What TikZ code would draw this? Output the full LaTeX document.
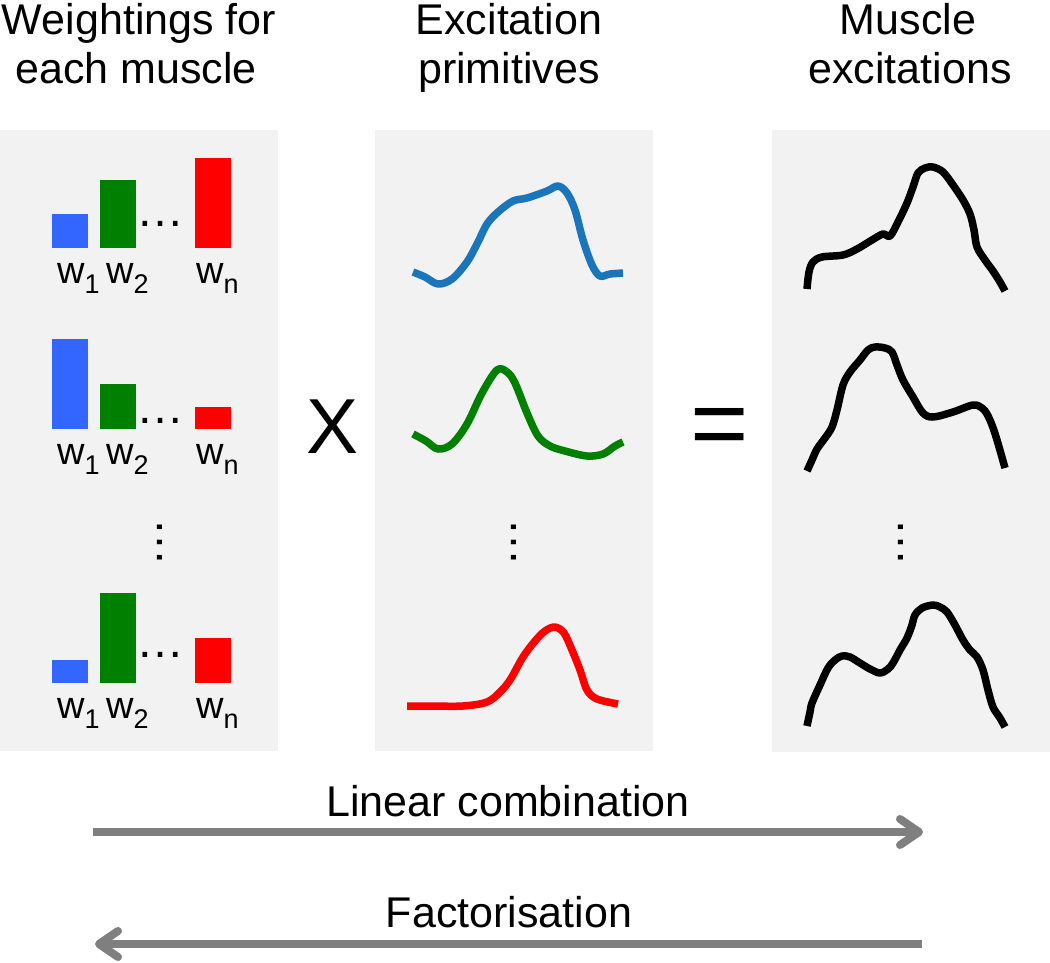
\documentclass[tikz,border=0pt]{standalone}
\usepackage{fontspec}
\setmainfont{Liberation Sans}
\usetikzlibrary{arrows.meta}
\definecolor{panelgray}{HTML}{F2F2F2}
\definecolor{arrowgray}{HTML}{7F7F7F}
\definecolor{barblue}{HTML}{3366FF}
\definecolor{bargreen}{HTML}{008000}
\definecolor{barred}{HTML}{FF0000}
\definecolor{curveblue}{HTML}{1A75BB}
\begin{document}
\begin{tikzpicture}[x=1pt,y=-1pt,
  panel/.style={fill=panelgray,draw=none},
  titletext/.style={inner sep=0pt,anchor=base,font=\fontsize{43}{49}\selectfont},
  wlabel/.style={inner sep=0pt,anchor=base west,font=\fontsize{38}{40}\selectfont},
  hdots/.style={inner sep=0pt,anchor=center,font=\fontsize{48}{48}\selectfont},
  vdots/.style={inner sep=0pt,anchor=center,rotate=90,font=\fontsize{48}{48}\selectfont},
  curve/.style={line width=7.5pt,line cap=butt,line join=round},
  bigarrow/.style={draw=arrowgray,line width=8pt,
     -{Straight Barb[length=19pt,width=26pt,round]}}
]
\useasboundingbox (0,0) rectangle (1050,962);
% panels
\fill[panel] (0,130) rectangle (278,751);
\fill[panel] (375,130) rectangle (653,751);
\fill[panel] (772,130) rectangle (1050,752);
% titles
\node[titletext] (t1a) at (139,34) {Weightings for};
\node[titletext] (t1b) at (136,83) {each muscle};
\node[titletext] (t2a) at (509,34) {Excitation};
\node[titletext] (t2b) at (509,83) {primitives};
\node[titletext] (t3a) at (908,34) {Muscle};
\node[titletext] (t3b) at (910,83) {excitations};
\newcommand{\wsub}[1]{w\raisebox{-10pt}{\fontsize{27}{27}\selectfont #1}}
% row 1 bars
\fill[barblue] (52,214) rectangle (88,248);
\fill[bargreen] (100,180) rectangle (136,248);
\fill[barred] (195,158) rectangle (231,248);
\node[hdots] (d1) at (160,224) {…};
\node[wlabel] (w11) at (57,283) {\wsub{1}};
\node[wlabel] (w12) at (106,283) {\wsub{2}};
\node[wlabel] (w1n) at (196,283) {\wsub{n}};
% row 2 bars
\fill[barblue] (52,339) rectangle (88,429);
\fill[bargreen] (100,384) rectangle (136,429);
\fill[barred] (195,407) rectangle (231,429);
\node[hdots] (d2) at (160,421) {…};
\node[wlabel] (w21) at (57,464) {\wsub{1}};
\node[wlabel] (w22) at (106,464) {\wsub{2}};
\node[wlabel] (w2n) at (196,464) {\wsub{n}};
% row 3 bars
\fill[barblue] (52,660) rectangle (88,683);
\fill[bargreen] (100,593) rectangle (136,683);
\fill[barred] (195,638) rectangle (231,683);
\node[hdots] (d3) at (160,655) {…};
\node[wlabel] (w31) at (57,718) {\wsub{1}};
\node[wlabel] (w32) at (106,718) {\wsub{2}};
\node[wlabel] (w3n) at (196,718) {\wsub{n}};
% vertical dots
\node[vdots] (v1) at (160,542) {…};
\node[vdots] (v2) at (514,542) {…};
\node[vdots] (v3) at (901,542) {…};
% operators
\node[inner sep=0pt,anchor=base,font=\fontsize{78}{78}\selectfont] (times) at (333,453) {X};
\node[inner sep=0pt,anchor=base,font=\fontsize{100}{100}\selectfont] (equals) at (720,457) {=};
% primitives
\draw[curve,curveblue] plot[smooth,tension=0.55] coordinates {(413,272) (425,277) (438,284) (452,279) (467,262) (478,242) (487,224) (498,212) (513,201) (527,198) (547,191) (558,186) (567,193) (575,210) (583,240) (592,265) (600,276) (610,274) (623,273)};
\draw[curve,bargreen] plot[smooth,tension=0.55] coordinates {(413,434) (426,441) (438,449) (452,444) (467,424) (482,393) (497,370) (507,372) (515,383) (527,413) (538,436) (550,446) (565,451) (587,456) (603,454) (615,446) (623,442)};
\draw[curve,barred] plot[smooth,tension=0.55] coordinates {(407,706) (430,706) (463,706) (487,702) (500,692) (510,680) (523,657) (535,641) (545,631) (555,627) (564,633) (572,650) (580,670) (587,690) (597,699) (618,704)};
% muscle excitations
\draw[curve,black] plot[smooth,tension=0.55] coordinates {(807,289) (809,272) (813,262) (822,257) (843,255) (857,249) (872,240) (883,234) (890,236) (898,222) (907,203) (913,187) (918,173) (925,168) (933,167) (943,172) (953,185) (963,200) (970,214) (974,230) (977,247) (985,260) (993,271) (1000,282) (1005,291)};
\draw[curve,black] plot[smooth,tension=0.55] coordinates {(807,471) (812,460) (817,449) (825,438) (832,427) (837,410) (843,385) (850,372) (860,360) (868,350) (875,347) (885,348) (892,352) (897,365) (903,380) (913,397) (923,413) (933,417) (953,412) (973,405) (982,408) (987,414) (992,425) (997,440) (1005,468)};
\draw[curve,black] plot[smooth,tension=0.55] coordinates {(807,726) (810,712) (812,703) (820,685) (828,668) (835,660) (842,656) (850,657) (860,663) (870,669) (880,673) (888,669) (893,663) (900,650) (907,638) (912,625) (915,615) (922,608) (933,605) (940,607) (947,612) (955,625) (963,640) (970,650) (977,657) (983,670) (988,690) (993,707) (1000,718) (1005,727)};
% bottom arrows
\node[titletext] (lin) at (508,816) {Linear combination};
\coordinate (linA) at (93,832);
\coordinate (linB) at (923,832);
\draw[bigarrow] (linA) -- (linB);
\node[titletext] (fac) at (509,927) {Factorisation};
\coordinate (facA) at (922,944);
\coordinate (facB) at (95,944);
\draw[bigarrow] (facA) -- (facB);
\end{tikzpicture}
\end{document}
